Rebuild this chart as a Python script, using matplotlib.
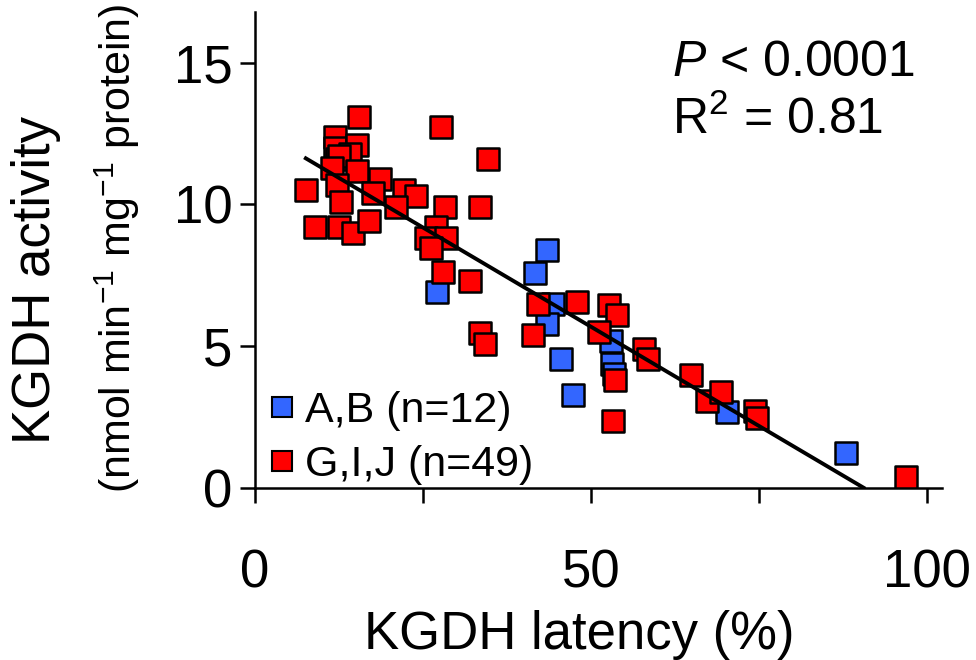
import numpy as np
import matplotlib
matplotlib.use("Agg")
import matplotlib.pyplot as plt
from matplotlib.lines import Line2D

plt.rcParams['font.family'] = ['Liberation Sans', 'DejaVu Sans']
plt.rcParams['mathtext.fontset'] = 'custom'
plt.rcParams['mathtext.rm'] = 'Liberation Sans'
plt.rcParams['mathtext.it'] = 'Liberation Sans:italic'

# KGDH latency (%) / activity
ab_x = [27.1, 43.5, 41.7, 44.4, 43.5, 45.5, 47.3, 53.0, 53.1, 70.2, 88.0, 53.4]
ab_y = [6.9, 8.4, 7.57, 6.5, 5.77, 4.54, 3.27, 5.17, 4.37, 2.68, 1.22, 4.0]

gij_x = [15.5, 27.7, 34.7, 12.0, 12.0, 12.2, 15.2, 14.2, 12.5, 11.5,
         15.2, 12.2, 12.9, 7.6, 18.6, 17.6, 22.2, 24.0, 21.0, 8.9,
         12.5, 14.6, 17.0, 28.3, 33.5, 26.9, 25.4, 28.4, 26.2, 28.0,
         32.0, 33.5, 34.2, 42.1, 41.4, 47.9, 52.7, 53.9, 51.2, 53.6,
         53.3, 57.9, 58.5, 64.9, 67.3, 69.3, 74.4, 74.7, 96.9]
gij_y = [13.1, 12.75, 11.6, 12.4, 12.0, 11.6, 12.1, 11.8, 11.7, 11.3,
         11.2, 10.7, 10.1, 10.5, 10.9, 10.4, 10.5, 10.3, 9.9, 9.2,
         9.2, 9.0, 9.4, 9.9, 9.9, 9.2, 8.8, 8.8, 8.45, 7.6,
         7.3, 5.45, 5.07, 6.48, 5.39, 6.55, 6.44, 6.1, 5.5, 3.8,
         2.36, 4.9, 4.54, 3.98, 3.06, 3.38, 2.7, 2.46, 0.38]

blue = '#3366FF'
red = '#FF0000'

fig = plt.figure(figsize=(9.76, 6.6), dpi=100)
ax = fig.add_axes([0.261, 0.261, 0.704, 0.721])

ax.scatter(ab_x, ab_y, s=230, marker='s', c=blue, edgecolors='black', linewidths=1.8, zorder=3)
ax.scatter(gij_x, gij_y, s=230, marker='s', c=red, edgecolors='black', linewidths=1.8, zorder=3)

# linear fit on all points
all_x = np.array(ab_x + gij_x)
all_y = np.array(ab_y + gij_y)
slope, icpt = np.polyfit(all_x, all_y, 1)
xl = np.array([all_x.min(), -icpt / slope])
ax.plot(xl, slope * xl + icpt, color='black', lw=2.8, zorder=4)

ax.set_xlim(0, 102.2)
ax.set_ylim(0, 16.8)
ax.set_xticks([0, 25, 50, 75, 100])
ax.set_xticklabels(['0', '', '50', '', '100'])
ax.set_yticks([0, 5, 10, 15])
for s in ['top', 'right']:
    ax.spines[s].set_visible(False)
for s in ['left', 'bottom']:
    ax.spines[s].set_linewidth(1.8)
ax.tick_params(direction='out', length=11, width=1.8, labelsize=38, pad=5)
ax.tick_params(axis='x', pad=33)

ax.set_xlabel('KGDH latency (%)', fontsize=38)
ax.xaxis.set_label_coords(0.473, -0.256)
# y label as two separate lines
fig.text(0.037, 0.576, 'KGDH activity', fontsize=38, rotation=90, ha='center', va='center')
fig.text(0.120, 0.624, '(nmol min$^{-1}$ mg$^{-1}$ protein)', fontsize=31, rotation=90,
         ha='center', va='center')

ax.text(62, 15.0, '$P$ < 0.0001', fontsize=36, va='center')
ax.text(62, 13.0, 'R$^2$ = 0.81', fontsize=36, va='center')

handles = [Line2D([], [], marker='s', ls='', mfc=blue, mec='black', mew=1.5, ms=14),
           Line2D([], [], marker='s', ls='', mfc=red, mec='black', mew=1.5, ms=14)]
ax.legend(handles, ['A,B (n=12)', 'G,I,J (n=49)'], loc='lower left', frameon=False,
          fontsize=31, handletextpad=0.05, handlelength=1.0, borderaxespad=0.0,
          labelspacing=0.33, bbox_to_anchor=(-0.017, -0.03))

fig.savefig('out.png', dpi=100)
